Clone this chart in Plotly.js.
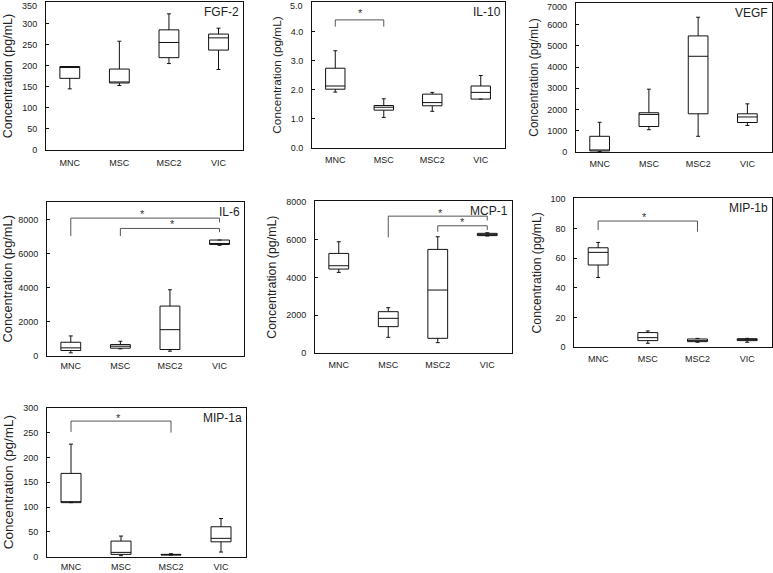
<!DOCTYPE html>
<html><head><meta charset="utf-8">
<script src="https://cdn.plot.ly/plotly-3.0.1.min.js"></script>
<style>html,body{margin:0;padding:0;background:#fff}</style>
</head><body><div id="chart" style="width:773px;height:573px"></div>
<script>
const categories = ['MNC', 'MSC', 'MSC2', 'VIC'];

// FGF-2
const fgf2Min = [145, 153, 205, 191];
const fgf2Q1  = [170, 159, 219, 237];
const fgf2Med = [197, 161, 255, 266];
const fgf2Q3  = [198, 192, 285, 275];
const fgf2Max = [198, 258, 323, 289];

// IL-10
const il10Min = [1.92, 1.05, 1.26, 1.68];
const il10Q1  = [2.02, 1.30, 1.45, 1.68];
const il10Med = [2.13, 1.40, 1.56, 1.91];
const il10Q3  = [2.74, 1.46, 1.85, 2.13];
const il10Max = [3.34, 1.69, 1.91, 2.49];

// VEGF
const vegfMin = [20, 1050, 740, 1250];
const vegfQ1  = [50, 1200, 1800, 1390];
const vegfMed = [90, 1770, 4510, 1650];
const vegfQ3  = [740, 1850, 5470, 1800];
const vegfMax = [1400, 2960, 6350, 2270];

// IL-6
const il6Min = [156, 390, 254, 6480];
const il6Q1  = [293, 430, 351, 6530];
const il6Med = [449, 546, 1520, 6560];
const il6Q3  = [780, 644, 2907, 6790];
const il6Max = [1150, 840, 3863, 6790];

// MCP-1
const mcp1Min = [4263, 842, 561, 6180];
const mcp1Q1  = [4439, 1404, 789, 6200];
const mcp1Med = [4614, 1842, 3333, 6250];
const mcp1Q3  = [5263, 2193, 5474, 6320];
const mcp1Max = [5877, 2404, 6140, 6350];

// MIP-1b
const mip1bMin = [47, 2.7, 3.4, 3.4];
const mip1bQ1  = [55.4, 4.5, 3.8, 4.5];
const mip1bMed = [63.9, 6.5, 4.5, 5.2];
const mip1bQ3  = [67.0, 9.9, 5.6, 5.8];
const mip1bMax = [70.6, 11, 6, 6];

// MIP-1a
const mip1aMin = [109, 2, 3.4, 9.4];
const mip1aQ1  = [109, 4.7, 3.4, 30];
const mip1aMed = [110, 8.7, 4, 37];
const mip1aQ3  = [168, 31.5, 4.7, 60.4];
const mip1aMax = [227, 41.6, 6, 77];

// significance brackets (category index, value) and star positions
const il10BracketX = [0, 0, 1, 1];
const il10BracketY = [4.17, 4.40, 4.40, 4.17];
const il10StarX = [0.53];
const il10StarY = [4.62];

const il6BracketAX = [0, 0, 3, 3];
const il6BracketAY = [7024, 8080, 8080, 7830];
const il6BracketBX = [1, 1, 3, 3];
const il6BracketBY = [7024, 7472, 7472, 7250];
const il6StarX = [1.45, 2.05];
const il6StarY = [8300, 7720];

const mcp1BracketAX = [1, 1, 3, 3];
const mcp1BracketAY = [6105, 7226, 7226, 7000];
const mcp1BracketBX = [2, 2, 3, 3];
const mcp1BracketBY = [6404, 6720, 6720, 6500];
const mcp1StarX = [2.05, 2.5];
const mcp1StarY = [7380, 6900];

const mip1bBracketX = [0, 0, 2, 2];
const mip1bBracketY = [79, 85, 85, 77.8];
const mip1bStarX = [0.94];
const mip1bStarY = [87.5];

const mip1aBracketX = [0, 0, 2, 2];
const mip1aBracketY = [251.7, 273.5, 273.5, 250.3];
const mip1aStarX = [0.94];
const mip1aStarY = [280];

const panelNames = ['FGF-2', 'IL-10', 'VEGF', 'IL-6', 'MCP-1', 'MIP-1b', 'MIP-1a'];

const FONT = 'Arial, "Liberation Sans", sans-serif';
const W = 773, H = 573;

const panels = [
  {name: panelNames[0], stats: [fgf2Min, fgf2Q1, fgf2Med, fgf2Q3, fgf2Max], px: [46, 243.3], py: [2, 150], yr: [0, 350], dtick: 50, dec: 0, tf: 12.5, xs: 4, topShift: -4,
   brackets: [], stars: null},
  {name: panelNames[1], stats: [il10Min, il10Q1, il10Med, il10Q3, il10Max], px: [312, 505], py: [2, 148], yr: [0, 5], dtick: 1, dec: 1, tf: 11.8, xs: 3, topShift: -4,
   brackets: [[il10BracketX, il10BracketY]], stars: [il10StarX, il10StarY]},
  {name: panelNames[2], stats: [vegfMin, vegfQ1, vegfMed, vegfQ3, vegfMax], px: [576, 772], py: [3, 152], yr: [0, 7000], dtick: 1000, dec: 0, tf: 11.9, xs: 3, topShift: -4,
   brackets: [], stars: null},
  {name: panelNames[3], stats: [il6Min, il6Q1, il6Med, il6Q3, il6Max], px: [47, 244.3], py: [202, 355.5], yr: [0, 9000], dtick: 2000, dec: 0, tf: 12.8, xs: 2, topShift: 0,
   brackets: [[il6BracketAX, il6BracketAY], [il6BracketBX, il6BracketBY]], stars: [il6StarX, il6StarY]},
  {name: panelNames[4], stats: [mcp1Min, mcp1Q1, mcp1Med, mcp1Q3, mcp1Max], px: [315, 512], py: [201, 353.3], yr: [0, 8000], dtick: 2000, dec: 0, tf: 12.4, xs: 3, topShift: 0,
   brackets: [[mcp1BracketAX, mcp1BracketAY], [mcp1BracketBX, mcp1BracketBY]], stars: [mcp1StarX, mcp1StarY]},
  {name: panelNames[5], stats: [mip1bMin, mip1bQ1, mip1bMed, mip1bQ3, mip1bMax], px: [574.3, 772], py: [198.3, 347.3], yr: [0, 100], dtick: 20, dec: 0, tf: 12.2, xs: 3, topShift: 0,
   brackets: [[mip1bBracketX, mip1bBracketY]], stars: [mip1bStarX, mip1bStarY]},
  {name: panelNames[6], stats: [mip1aMin, mip1aQ1, mip1aMed, mip1aQ3, mip1aMax], px: [47, 246], py: [407.5, 556.7], yr: [0, 300], dtick: 50, dec: 0, tf: 13.5, xs: 1, topShift: 0,
   brackets: [[mip1aBracketX, mip1aBracketY]], stars: [mip1aStarX, mip1aStarY]}
];

const data = [];
const layout = {
  width: W, height: H,
  margin: {l: 0, r: 0, t: 0, b: 0},
  paper_bgcolor: '#fff', plot_bgcolor: '#fff',
  showlegend: false,
  font: {family: FONT, color: '#222', size: 9},
  annotations: []
};

panels.forEach((p, i) => {
  const n = i === 0 ? '' : String(i + 1);
  const xa = 'x' + n, ya = 'y' + n;
  data.push({
    type: 'box', xaxis: xa, yaxis: ya,
    x: categories.map((c, k) => k),
    lowerfence: p.stats[0], q1: p.stats[1], median: p.stats[2], q3: p.stats[3], upperfence: p.stats[4],
    boxpoints: false, width: 0.4, whiskerwidth: 0.2,
    fillcolor: '#ffffff',
    line: {color: '#111', width: 1},
    hoverinfo: 'skip'
  });
  p.brackets.forEach(b => {
    data.push({type: 'scatter', mode: 'lines', xaxis: xa, yaxis: ya,
      x: b[0], y: b[1],
      line: {color: '#555', width: 1}, hoverinfo: 'skip', cliponaxis: false});
  });
  if (p.stars) {
    p.stars[0].forEach((sx, k) => {
      layout.annotations.push({
        text: '*', xref: xa, yref: ya, x: sx, y: p.stars[1][k],
        xanchor: 'center', yanchor: 'middle', showarrow: false,
        font: {family: FONT, size: 11, color: '#333'}
      });
    });
  }
  // y tick values from range and step
  const tv = [], tt = [];
  const nT = Math.round(p.yr[1] / p.dtick);
  for (let k = 0; k <= nT; k++) {
    const v = k * p.dtick;
    tv.push(v);
    tt.push(v.toFixed(p.dec));
  }
  if (p.topShift !== 0) {
    // top label sits slightly lower than its tick (as in the reference) so it is not cut off
    const lbl = tt[tt.length - 1];
    tt[tt.length - 1] = '';
    layout.annotations.push({
      text: lbl, xref: xa + ' domain', yref: ya, x: 0, y: tv[tv.length - 1],
      xanchor: 'right', yanchor: 'middle', xshift: -7, yshift: p.topShift,
      showarrow: false, font: {family: FONT, size: 9, color: '#222'}
    });
  }
  const top = p.yr[1] * 1.003;
  layout['xaxis' + n] = {
    domain: [p.px[0] / W, p.px[1] / W],
    anchor: ya,
    type: 'linear',
    range: [-0.48, 3.5],
    tickvals: [0, 1, 2, 3], ticktext: categories,
    ticks: '', showgrid: false, zeroline: false,
    showline: true, mirror: true, linecolor: '#111', linewidth: 1,
    tickfont: {family: FONT, size: 9, color: '#222'},
    ticklabelstandoff: p.xs,
    ticklabeloverflow: 'allow'
  };
  layout['yaxis' + n] = {
    domain: [1 - p.py[1] / H, 1 - p.py[0] / H],
    anchor: xa,
    range: [0, top], tickmode: 'array', tickvals: tv, ticktext: tt,
    ticks: 'inside', ticklen: 3, tickcolor: '#111',
    showgrid: false, zeroline: false,
    showline: true, mirror: true, linecolor: '#111', linewidth: 1,
    tickfont: {family: FONT, size: 9, color: '#222'},
    ticklabelstandoff: 6,
    ticklabeloverflow: 'allow',
    title: {text: 'Concentration (pg/mL)', font: {family: FONT, size: p.tf, color: '#222'}, standoff: 6}
  };
  layout.annotations.push({
    text: p.name, xref: xa + ' domain', yref: ya + ' domain',
    x: 1, y: 1, xanchor: 'right', yanchor: 'top', xshift: -2, yshift: -1,
    showarrow: false, font: {family: FONT, size: 12, color: '#222'}
  });
});

Plotly.newPlot('chart', data, layout, {staticPlot: true});
</script>
</body></html>
